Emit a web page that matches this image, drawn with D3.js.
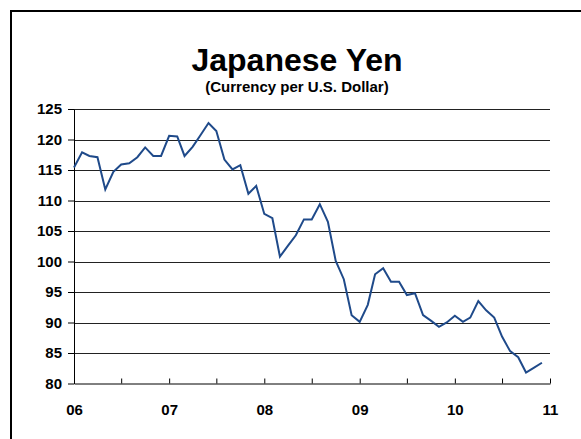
<!DOCTYPE html>
<html>
<head>
<meta charset="utf-8">
<script src="https://cdn.jsdelivr.net/npm/d3@7"></script>
<style>
  html, body { margin: 0; padding: 0; background: #fff; overflow: hidden; }
  svg { display: block; font-family: Arial, "Liberation Sans", Helvetica, sans-serif; }
  .axis text { font-size: 15px; font-weight: bold; fill: #000; }
  .axis path, .axis line { stroke: #000; }
</style>
</head>
<body>
<svg id="chart"></svg>
<script>
const width = 581;
const height = 439;

// Monthly averages, Jan 2006 .. Dec 2010 (yen per U.S. dollar)
const startMonth = new Date(2006, 0, 1);
const yenValues = [
  115.4, 117.9, 117.3, 117.1, 111.8, 114.7, 115.9, 116.1, 117.1, 118.7, 117.3, 117.3,
  120.6, 120.5, 117.3, 118.8, 120.7, 122.7, 121.4, 116.7, 115.1, 115.8, 111.1, 112.4,
  107.8, 107.1, 100.8, 102.6, 104.3, 106.9, 106.9, 109.4, 106.5, 100.1, 97.1, 91.2,
  90.1, 92.9, 97.9, 98.9, 96.7, 96.7, 94.5, 94.8, 91.2, 90.3, 89.3, 90.0,
  91.1, 90.1, 90.8, 93.5, 92.0, 90.8, 87.7, 85.3, 84.3, 81.8, 82.6, 83.4
];
const yTicks = [80, 85, 90, 95, 100, 105, 110, 115, 120, 125];
const yearLabels = ["06", "07", "08", "09", "10", "11"];

const data = yenValues.map((v, i) => ({
  date: new Date(startMonth.getFullYear(), startMonth.getMonth() + i, 1),
  value: v
}));

const svg = d3.select("#chart").attr("width", width).attr("height", height);

// outer frame: only its top and left edges fall inside the window
svg.append("path")
  .attr("d", "M11," + height + "V11H" + width)
  .attr("fill", "none")
  .attr("stroke", "#000")
  .attr("stroke-width", 2);

// Scales
const x = d3.scaleTime()
  .domain([new Date(2006, 0, 1), new Date(2011, 0, 1)])
  .range([74, 550]);
const y = d3.scaleLinear().domain([80, 125]).range([383.5, 109]);

// Titles
svg.append("text")
  .attr("x", 297).attr("y", 70.5)
  .attr("text-anchor", "middle")
  .style("font-size", "32px").style("font-weight", "bold")
  .text("Japanese Yen");
svg.append("text")
  .attr("x", 297).attr("y", 92)
  .attr("text-anchor", "middle")
  .style("font-size", "15px").style("font-weight", "bold")
  .text("(Currency per U.S. Dollar)");

// Gridlines
svg.append("g")
  .selectAll("line")
  .data(yTicks.slice(1))
  .enter()
  .append("line")
  .attr("x1", x.range()[0]).attr("x2", x.range()[1])
  .attr("y1", (d) => Math.round(y(d)) + 0.5)
  .attr("y2", (d) => Math.round(y(d)) + 0.5)
  .attr("stroke", "#222")
  .attr("stroke-width", 1);

// Axes
const halfYears = d3.range(0, 11).map((i) => new Date(2006, i * 6, 1));
const xAxis = d3.axisBottom(x)
  .tickValues(halfYears)
  .tickSize(-5)
  .tickSizeOuter(0)
  .tickPadding(21)
  .tickFormat((d) => d.getMonth() === 0 ? yearLabels[d.getFullYear() - 2006] : "");
const yAxis = d3.axisLeft(y)
  .tickValues(yTicks)
  .tickSize(6)
  .tickSizeOuter(0)
  .tickPadding(6);

svg.append("g")
  .attr("class", "axis")
  .attr("transform", "translate(0," + y(80) + ")")
  .call(xAxis);
svg.append("g")
  .attr("class", "axis")
  .attr("transform", "translate(" + x.range()[0] + ",0)")
  .call(yAxis);

// Line
const line = d3.line()
  .x((d) => x(d.date))
  .y((d) => y(d.value));

svg.append("path")
  .datum(data)
  .attr("fill", "none")
  .attr("stroke", "#1f4a8a")
  .attr("stroke-width", 2)
  .attr("stroke-linejoin", "miter")
  .attr("d", line);
</script>
</body>
</html>
